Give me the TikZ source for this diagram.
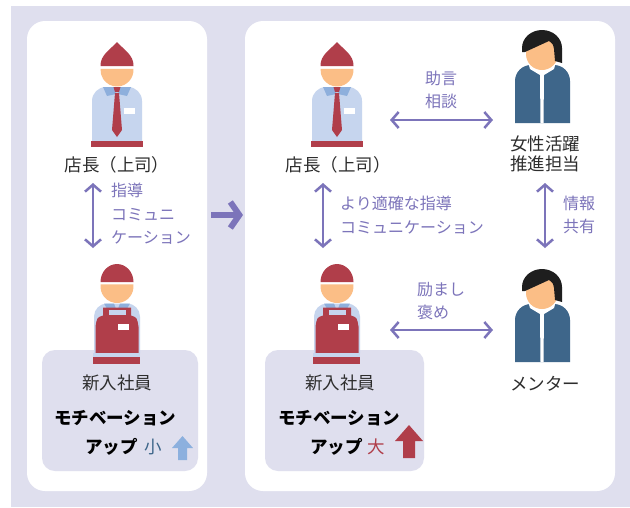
\documentclass[tikz,border=0pt]{standalone}
\usepackage{fontspec}
\setmainfont{Noto Sans CJK JP}
\usetikzlibrary{arrows.meta}
\definecolor{bgC}{RGB}{223,223,238}
\definecolor{lineC}{RGB}{124,116,186}
\definecolor{redC}{RGB}{176,62,74}
\definecolor{skinC}{RGB}{251,190,134}
\definecolor{shirtC}{RGB}{198,213,238}
\definecolor{collarC}{RGB}{142,175,220}
\definecolor{navyC}{RGB}{62,102,138}
\definecolor{hairC}{RGB}{30,30,30}
\definecolor{textC}{RGB}{45,45,45}
\definecolor{upC}{RGB}{140,176,222}
\tikzset{
  manager/.pic={
    \fill[redC] (-16.5,-4) .. controls (-17,-15) and (-6,-21) .. (0,-28) .. controls (6,-21) and (17,-15) .. (16.5,-4) -- cycle;
    \fill[skinC] (-3.5:16.5) arc[start angle=-3.5,end angle=183.5,radius=16.5] -- cycle;
    \fill[shirtC] (-25,72) -- (-25,31) arc[start angle=180,end angle=270,radius=14] -- (11,17) arc[start angle=270,end angle=360,radius=14] -- (25,72) -- cycle;
    \fill[collarC] (-14,17) -- (-3,17) -- (-1,24) -- (-10,26) -- cycle;
    \fill[collarC] (14,17) -- (3,17) -- (1,24) -- (10,26) -- cycle;
    \fill[redC] (-3.5,17) -- (3.5,17) -- (2,22) -- (-2,22) -- cycle;
    \fill[redC] (-2,23) -- (2,23) -- (5,60) -- (0,67) -- (-5,60) -- cycle;
    \fill[white] (7,38) rectangle (18,44);
    \fill[redC] (-26,71) rectangle (26,77);
  },
  staff/.pic={
    \fill[redC] (-16.5,-4.5) arc[start angle=180,end angle=360,x radius=16.5,y radius=18] -- cycle;
    \fill[skinC] (-7:16.5) arc[start angle=-7,end angle=187,radius=16.5] -- cycle;
    \fill[shirtC] (-23,66.5) -- (-23,30) arc[start angle=180,end angle=270,radius=13] -- (10,17) arc[start angle=270,end angle=360,radius=13] -- (23,66.5) -- cycle;
    \fill[collarC] (-13,17) -- (-3,17) -- (0,25) -- (-9,24) -- cycle;
    \fill[collarC] (13,17) -- (3,17) -- (0,25) -- (9,24) -- cycle;
    \fill[redC] (-14,21) -- (14,21) -- (14,29) .. controls (20,31) .. (21.5,40) -- (21.5,66.5) -- (-21.5,66.5) -- (-21.5,40) .. controls (-20,31) .. (-14,29) -- cycle;
    \fill[shirtC] (-8,23.5) rectangle (9,28.5);
    \fill[white] (1,37.5) rectangle (12,43.5);
    \fill[shirtC] (-24,66.5) rectangle (23,70.5);
    \fill[redC] (-24,70.5) rectangle (23,77);
  },
  lady/.pic={
    \fill[navyC] (-27,69) -- (-27,27) arc[start angle=180,end angle=270,radius=16] -- (12,11) arc[start angle=270,end angle=360,radius=16] -- (28,69) -- cycle;
    \fill[white] (-14,8) -- (14,8) -- (12,15) -- (2,21) -- (1.5,69) -- (-1.5,69) -- (-2,21) -- (-12,15) -- cycle;
    \fill[skinC] (0,0) circle (16);
    \fill[hairC] (-17,-2) -- (-20,-2) -- (-20,-6) arc[start angle=180,end angle=360,x radius=20,y radius=18] -- (20,9) -- (13,7) -- (12,-5) .. controls (11,-10) .. (7,-13) -- cycle;
  },
}
\begin{document}
\begin{tikzpicture}[x=1pt,y=-1pt,
  lbl/.style={text=textC,font=\fontsize{17.5}{20}\selectfont,inner sep=0pt,align=center},
  bold/.style={text=black,font=\fontsize{17.5}{20}\selectfont\bfseries,inner sep=0pt},
  note/.style={text=lineC,font=\fontsize{16}{23.5}\selectfont,inner sep=0pt,align=left},
  talk/.style={lineC,line width=2.5pt,{Straight Barb[length=7pt,width=16pt]}-{Straight Barb[length=7pt,width=16pt]}}]
\useasboundingbox (0,0) rectangle (630,507);
\fill[bgC] (11,6) rectangle (630,507);
\fill[white,rounded corners=18pt] (27,21) rectangle (207,491);
\fill[white,rounded corners=18pt] (245,21) rectangle (615,491);
\fill[bgC,rounded corners=13pt] (42,350) rectangle (198,471);
\fill[bgC,rounded corners=13pt] (265,350) rectangle (424,471);

\pic at (117,70) {manager};
\pic at (117,286.5) {staff};
\pic at (337,70) {manager};
\pic at (337,286.5) {staff};
\pic at (542,54) {lady};
\pic at (542,293) {lady};

\node[lbl] (bossL) at (117,165) {店長（上司）};
\coordinate (bossL-s) at (93,183);
\coordinate (newL-n) at (93,248);
\draw[talk] (bossL-s) -- (newL-n);
\node[note,anchor=west] (guideL) at (111,214) {指導\\コミュニ\\ケーション};
\node[lbl] (newL) at (117,383) {新入社員};
\node[bold,anchor=west] (motL) at (54,418) {モチベーション};
\node[bold,anchor=west] (upL) at (85,447) {アップ};
\node[lbl,text=navyC] (smallL) at (153,447) {小};
\fill[upC] (172,448) -- (182.5,436) -- (193,448) -- (187,448) -- (187,460) -- (178,460) -- (178,448) -- cycle;

\coordinate (go-w) at (211,215);
\coordinate (go-e) at (243,215);
\draw[lineC,line width=6pt,-{Straight Barb[length=9pt,width=26pt]}] (go-w) -- (go-e);

\node[lbl] (bossR) at (338,165) {店長（上司）};
\coordinate (bossR-s) at (323,183);
\coordinate (newR-n) at (323,248);
\draw[talk] (bossR-s) -- (newR-n);
\node[note,anchor=west] (guideR) at (340,215) {より適確な指導\\コミュニケーション};
\node[lbl] (newR) at (340,383) {新入社員};
\node[bold,anchor=west] (motR) at (278,418) {モチベーション};
\node[bold,anchor=west] (upR) at (310,447) {アップ};
\node[lbl,text=redC] (bigR) at (376,447) {大};
\fill[redC] (395,441) -- (409,425) -- (423,441) -- (415,441) -- (415,458) -- (403,458) -- (403,441) -- cycle;

\coordinate (bossR-e) at (390,120);
\coordinate (lead-w) at (493,120);
\draw[talk] (bossR-e) -- (lead-w);
\node[note,align=center] (advice) at (441,90) {助言\\相談};
\node[lbl] (lead) at (545,154) {女性活躍\\推進担当};
\coordinate (lead-s) at (545,183);
\coordinate (mentor-n) at (545,248);
\draw[talk] (lead-s) -- (mentor-n);
\node[note,anchor=west] (share) at (563,215) {情報\\共有};
\coordinate (newR-e) at (390,330);
\coordinate (mentor-w) at (493,330);
\draw[talk] (newR-e) -- (mentor-w);
\node[note,anchor=west] (cheer) at (417,301) {励まし\\褒め};
\node[lbl] (mentor) at (545,384) {メンター};
\end{tikzpicture}
\end{document}
